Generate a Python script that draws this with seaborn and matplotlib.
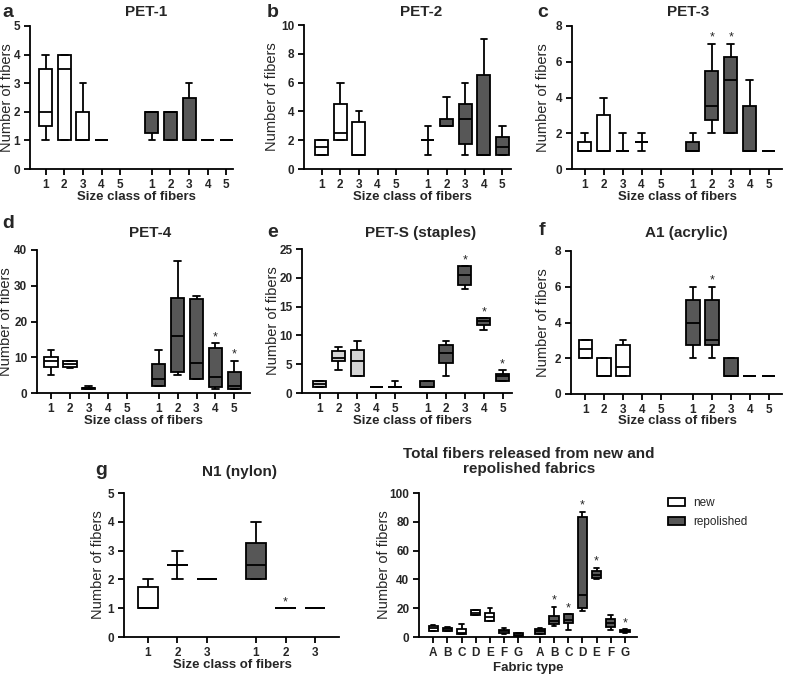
import numpy as np
import pandas as pd
import matplotlib
matplotlib.use("Agg")
import matplotlib.pyplot as plt
import seaborn as sns
from matplotlib.patches import Patch

# ---------------- data: five-number summaries (min, q1, median, q3, max); None = no box
size_classes = ["1", "2", "3", "4", "5"]
nylon_classes = ["1", "2", "3"]
fabric_types = ["A", "B", "C", "D", "E", "F", "G"]

pet1_new = [(1, 1.5, 2, 3.5, 4), (1, 1, 3.5, 4, 4), (1, 1, 1, 2, 3), (1, 1, 1, 1, 1), None]
pet1_rep = [(1, 1.25, 2, 2, 2), (1, 1, 2, 2, 2), (1, 1, 1, 2.5, 3), (1, 1, 1, 1, 1), (1, 1, 1, 1, 1)]
pet1_star = [0, 0, 0, 0, 0]

pet2_new = [(1, 1, 1.5, 2, 2), (2, 2, 2.5, 4.5, 6), (1, 1, 1, 3.25, 4), None, None]
pet2_rep = [(1, 2, 2, 2, 3), (3, 3, 3, 3.5, 5), (1, 1.75, 3.5, 4.5, 6), (1, 1, 1, 6.5, 9), (1, 1, 1.5, 2.25, 3)]
pet2_star = [0, 0, 0, 0, 0]

pet3_new = [(1, 1, 1, 1.5, 2), (1, 1, 1, 3, 4), (1, 1, 1, 1, 2), (1, 1.5, 1.5, 1.5, 2), None]
pet3_rep = [(1, 1, 1, 1.5, 2), (2, 2.75, 3.5, 5.5, 7), (2, 2, 5, 6.25, 7), (1, 1, 1, 3.5, 5), (1, 1, 1, 1, 1)]
pet3_star = [0, 1, 1, 0, 0]

pet4_new = [(5, 7.25, 9, 10, 12), (7, 7.25, 8, 9, 9), (1, 1, 1.3, 1.5, 2), None, None]
pet4_rep = [(2, 2, 4, 8.25, 12), (5, 5.75, 16, 26.5, 37), (4, 4, 8.5, 26.25, 27), (1, 1.75, 4.5, 12.5, 14), (1, 1, 2, 6, 9)]
pet4_star = [0, 0, 0, 1, 1]

pets_new = [(1, 1, 1.5, 2, 2), (4, 5.5, 6, 7.25, 8), (3, 3, 5.5, 7.5, 9), (1, 1, 1, 1, 1), (1, 1, 1, 1, 2)]
pets_rep = [(1, 1, 1, 2, 2), (3, 5.25, 7, 8.25, 9), (18, 18.75, 20.5, 22, 22), (11, 11.75, 12.5, 13, 13), (2, 2, 3, 3.25, 4)]
pets_star = [0, 0, 1, 1, 1]

a1_new = [(2, 2, 2.5, 3, 3), (1, 1, 1, 2, 2), (1, 1, 1.5, 2.75, 3), None, None]
a1_rep = [(2, 2.75, 4, 5.25, 6), (2, 2.75, 3, 5.25, 6), (1, 1, 1, 2, 2), (1, 1, 1, 1, 1), (1, 1, 1, 1, 1)]
a1_star = [0, 1, 0, 0, 0]

n1_new = [(1, 1, 1, 1.75, 2), (2, 2.5, 2.5, 2.5, 3), (2, 2, 2, 2, 2)]
n1_rep = [(2, 2, 2.5, 3.25, 4), (1, 1, 1, 1, 1), (1, 1, 1, 1, 1)]
n1_star = [0, 1, 0]

total_new = [(4, 4.5, 6, 7.5, 8), (4, 4.5, 5.5, 6.5, 7), (2, 2, 3, 5.5, 9), (15, 15.5, 17, 18.5, 19),
             (11, 11, 14, 17, 20), (2, 3, 4.5, 5, 6), (0.5, 0.8, 1.5, 2.5, 3)]
total_rep = [(2, 2, 4, 5.5, 6), (7.5, 8.8, 11, 14.5, 21), (5, 9.5, 11.5, 16, 16), (18, 20, 29, 83, 87),
             (40.5, 41, 43, 45.5, 48), (5, 7, 9.5, 12.5, 15), (3, 3.2, 4, 4.8, 5.5)]
total_star = [0, 1, 1, 1, 1, 0, 1]

legend_labels = ["new", "repolished"]

# ---------------- style
sns.set_style("ticks")
plt.rcParams["font.family"] = ["Liberation Sans", "DejaVu Sans"]
plt.rcParams["axes.linewidth"] = 1.3

W, H = 787, 676
fig = plt.figure(figsize=(W / 100, H / 100), dpi=100)

NEW_COLOR = "white"
LIGHT_COLOR = "#d4d4d4"
REP_COLOR = "#575757"
LW = 1.3


def draw_panel(box, new, rep, stars, ticklabels, ymax, ystep, lpad, rpad, gap,
               title, title_xy, letter, letter_xy, xlabel, xlabel_xy, ylabel_right,
               new_color=NEW_COLOR, width=0.7):
    l, t, r, b = box
    ax = fig.add_axes([l / W, 1 - b / H, (r - l) / W, (b - t) / H])
    n = len(new)
    pos_new = np.arange(n, dtype=float)
    pos_rep = pos_new + (n - 1) + gap
    for stats, pos, color in ((new, pos_new, new_color), (rep, pos_rep, REP_COLOR)):
        rows = [(p, v) for s, p in zip(stats, pos) if s is not None for v in s]
        df = pd.DataFrame(rows, columns=["pos", "val"])
        sns.boxplot(data=df, x="pos", y="val", native_scale=True, orient="x",
                    whis=(0, 100), width=width, color=color, saturation=1,
                    linecolor="black", linewidth=LW, fliersize=0, ax=ax)
    # significance stars
    for stats, st, p in zip(rep, stars, pos_rep):
        if st and stats is not None:
            ax.annotate("*", xy=(p, stats[4]), xytext=(0, 0), textcoords="offset points",
                        ha="center", va="bottom", fontsize=9)
    ax.set_xlim(-lpad, pos_rep[-1] + rpad)
    ax.set_ylim(0, ymax)
    ax.set_xticks(np.concatenate([pos_new, pos_rep]), list(ticklabels) * 2,
                  fontweight="bold", fontsize=8.5)
    yt = np.arange(0, ymax + 1e-9, ystep)
    ax.set_yticks(yt, [f"{v:g}" for v in yt], fontweight="bold", fontsize=8.5)
    ax.tick_params(axis="both", length=4, width=LW, direction="out", pad=3, color="black")
    sns.despine(ax=ax)
    for s in ("left", "bottom"):
        ax.spines[s].set_linewidth(LW)
        ax.spines[s].set_color("black")
    ax.set_xlabel(xlabel, fontsize=9.5, fontweight="bold", va="center")
    ax.xaxis.set_label_coords((xlabel_xy[0] - l) / (r - l), -(xlabel_xy[1] - b) / (b - t))
    ax.set_ylabel("Number of fibers", fontsize=10.5)
    ax.yaxis.set_label_coords((ylabel_right + 1 - l) / (r - l), 0.5)
    fig.text(title_xy[0] / W, 1 - title_xy[1] / H, title, ha="center", va="center",
             fontsize=11, fontweight="bold", linespacing=1.1)
    fig.text(letter_xy[0] / W, 1 - letter_xy[1] / H, letter, ha="left", va="baseline",
             fontsize=14, fontweight="bold")
    return ax


SX = "Size class of fibers"
draw_panel((30, 26, 233, 169), pet1_new, pet1_rep, pet1_star, size_classes, 5, 1, 0.84, 0.36, 1.7,
           "PET-1", (146, 12.5), "a", (2, 17), SX, (136, 197), 13)
draw_panel((304, 25, 511, 169), pet2_new, pet2_rep, pet2_star, size_classes, 10, 2, 0.95, 0.46, 1.7,
           "PET-2", (421, 12), "b", (267, 17), SX, (412, 197), 278)
draw_panel((572, 26, 782, 169), pet3_new, pet3_rep, pet3_star, size_classes, 8, 2, 0.67, 0.7, 1.7,
           "PET-3", (688, 12), "c", (537, 17), SX, (677, 197), 549)
draw_panel((37, 250, 250, 393), pet4_new, pet4_rep, pet4_star, size_classes, 40, 10, 0.74, 0.83, 1.7,
           "PET-4", (150, 233), "d", (2, 228), SX, (143, 421), 12)
draw_panel((302, 249, 512, 393), pets_new, pets_rep, pets_star, size_classes, 25, 5, 0.93, 0.5, 1.7,
           "PET-S (staples)", (421, 233), "e", (267, 237), SX, (412, 421), 279,
           new_color=LIGHT_COLOR)
draw_panel((571, 251, 782, 394), a1_new, a1_rep, a1_star, size_classes, 8, 2, 0.75, 0.7, 1.7,
           "A1 (acrylic)", (686, 233), "f", (539, 235), SX, (677, 421), 549)
draw_panel((124, 493, 339, 637), n1_new, n1_rep, n1_star, nylon_classes, 5, 1, 0.81, 0.81, 1.66,
           "N1 (nylon)", (239, 472), "g", (95, 475), SX, (232, 665), 104)
axh = draw_panel((419, 493, 637, 637), total_new, total_rep, total_star, fabric_types, 100, 20, 1.0, 0.85, 1.53,
                 "Total fibers released from new and\nrepolished fabrics", (529, 461.5), "", (0, 0),
                 "Fabric type", (528, 668), 390, width=0.65)

handles = [Patch(facecolor=NEW_COLOR, edgecolor="black", linewidth=LW),
           Patch(facecolor=REP_COLOR, edgecolor="black", linewidth=LW)]
axh.legend(handles, legend_labels, loc="upper left", bbox_to_anchor=(668 / W, 1 - 497 / H),
           bbox_transform=fig.transFigure, frameon=False, fontsize=8.5, borderpad=0,
           borderaxespad=0, handlelength=1.45, handleheight=0.75, handletextpad=0.7,
           labelspacing=0.6)

fig.savefig("out.png", dpi=100)
